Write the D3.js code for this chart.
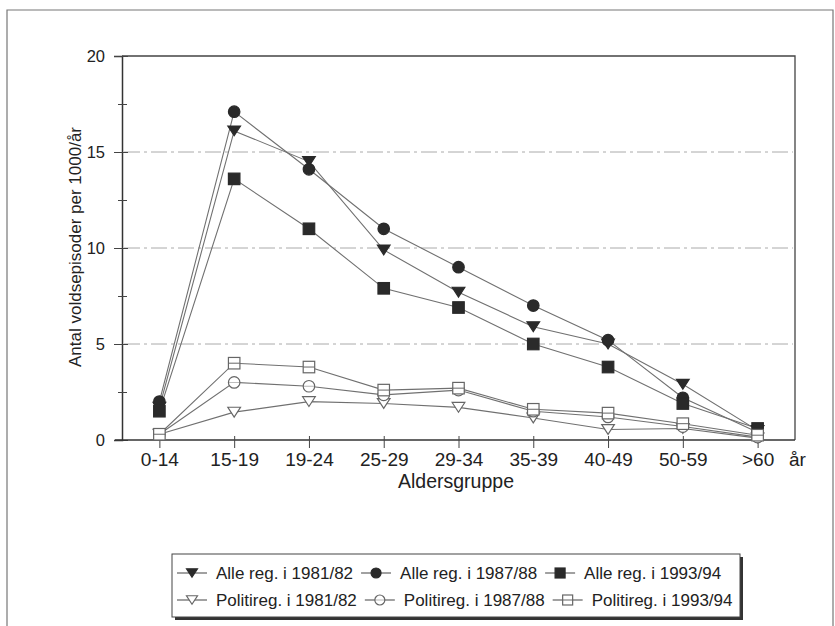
<!DOCTYPE html>
<html>
<head>
<meta charset="utf-8">
<script src="https://cdn.jsdelivr.net/npm/d3@7/dist/d3.min.js"></script>
<style>
  body { margin: 0; background: #fff; }
  svg { display: block; font-family: "Liberation Sans", Arial, sans-serif; }
</style>
</head>
<body>
<svg id="chart" width="835" height="626"></svg>
<script>
const categories = ["0-14", "15-19", "19-24", "25-29", "29-34", "35-39", "40-49", "50-59", ">60"];
const alle8182 = [1.7, 16.1, 14.5, 9.9, 7.7, 5.9, 5.0, 2.9, 0.5];
const alle8788 = [2.0, 17.1, 14.1, 11.0, 9.0, 7.0, 5.2, 2.2, 0.4];
const alle9394 = [1.5, 13.6, 11.0, 7.9, 6.9, 5.0, 3.8, 1.9, 0.6];
const pol8182 = [0.3, 1.45, 2.0, 1.9, 1.7, 1.15, 0.55, 0.6, 0.1];
const pol8788 = [0.3, 3.0, 2.8, 2.35, 2.6, 1.5, 1.2, 0.7, 0.15];
const pol9394 = [0.3, 4.0, 3.8, 2.6, 2.7, 1.6, 1.4, 0.85, 0.25];
const yTicks = [0, 5, 10, 15, 20];
const yMinorTicks = [2.5, 7.5, 12.5, 17.5];
const gridValues = [5, 10, 15];

const seriesNames = [
  "Alle reg. i 1981/82", "Alle reg. i 1987/88", "Alle reg. i 1993/94",
  "Politireg. i 1981/82", "Politireg. i 1987/88", "Politireg. i 1993/94"
];
const seriesValues = [alle8182, alle8788, alle9394, pol8182, pol8788, pol9394];
const seriesShape = ["tri", "circle", "square", "tri", "circle", "square"];
const seriesFilled = [true, true, true, false, false, false];

const svg = d3.select("#chart");
const plot = { left: 122, right: 795, top: 56, bottom: 440 };

// outer frame
svg.append("path")
  .attr("d", "M7,640 L7,10 L833,10 L833,640")
  .attr("fill", "none").attr("stroke", "#777").attr("stroke-width", 1.2);

const x = d3.scalePoint().domain(categories).range([plot.left, plot.right]).padding(0.5);
const y = d3.scaleLinear().domain([0, 20]).range([plot.bottom, plot.top]);

// gridlines
svg.append("g").selectAll("line").data(gridValues).join("line")
  .attr("x1", plot.left + 2).attr("x2", plot.right - 2)
  .attr("y1", d => y(d)).attr("y2", d => y(d))
  .attr("stroke", "#aaa").attr("stroke-width", 1)
  .attr("stroke-dasharray", "16,4,3,4");

// plot frame (top & right)
svg.append("path")
  .attr("d", `M${plot.left},${plot.top} L${plot.right},${plot.top} L${plot.right},${plot.bottom}`)
  .attr("fill", "none").attr("stroke", "#444").attr("stroke-width", 1.3);

// y axis
const yAxis = d3.axisLeft(y).tickValues(yTicks).tickSize(8).tickPadding(8)
  .tickFormat(d3.format("d"));
const gy = svg.append("g").attr("transform", `translate(${plot.left},0)`).call(yAxis);
gy.select(".domain").attr("stroke", "#333").attr("stroke-width", 1.5);
gy.selectAll(".tick line").attr("x2", -8).attr("x1", 6).attr("stroke", "#444");
gy.selectAll(".tick text").attr("font-size", "16.5px").attr("fill", "#222")
  .attr("font-family", "Liberation Sans, Arial, sans-serif").attr("x", -17);
const yMinor = d3.axisLeft(y).tickValues(yMinorTicks).tickSize(4).tickFormat("");
const gym = svg.append("g").attr("transform", `translate(${plot.left},0)`).call(yMinor);
gym.select(".domain").remove();
gym.selectAll(".tick line").attr("x1", 5).attr("x2", -4).attr("stroke", "#444");

// x axis
const xAxis = d3.axisBottom(x).tickSize(8).tickPadding(6);
const gx = svg.append("g").attr("transform", `translate(0,${plot.bottom})`).call(xAxis);
gx.select(".domain").attr("d", `M${plot.left - 7},0H${plot.right}`)
  .attr("stroke", "#333").attr("stroke-width", 1.5);
gx.selectAll(".tick line").attr("y1", -4).attr("y2", 8).attr("stroke", "#444");
gx.selectAll(".tick text").attr("font-size", "19px").attr("fill", "#222")
  .attr("font-family", "Liberation Sans, Arial, sans-serif").attr("dy", null).attr("y", 26);

svg.append("text").attr("x", 789).attr("y", 466)
  .attr("font-size", "19px").attr("fill", "#222").text("år");
svg.append("text").attr("x", 456).attr("y", 488).attr("text-anchor", "middle")
  .attr("font-size", "19.5px").attr("fill", "#222").text("Aldersgruppe");
svg.append("text")
  .attr("transform", "translate(81,247) rotate(-90)")
  .attr("text-anchor", "middle").attr("font-size", "17px").attr("fill", "#222")
  .text("Antal voldsepisoder per 1000/år");

// marker drawing
function drawMarker(g, shape, filled, cx, cy, s) {
  const fill = filled ? "#2a2a2a" : "#fff";
  const stroke = filled ? "#2a2a2a" : "#666";
  let el;
  if (shape === "tri") {
    const h = s * 0.85, w = s * 0.55;
    el = g.append("path").attr("d", `M${cx - w},${cy - h / 2} L${cx + w},${cy - h / 2} L${cx},${cy + h / 2} Z`);
  } else if (shape === "circle") {
    el = g.append("circle").attr("cx", cx).attr("cy", cy).attr("r", s * 0.5);
  } else {
    el = g.append("rect").attr("x", cx - s / 2).attr("y", cy - s / 2).attr("width", s).attr("height", s);
  }
  el.attr("fill", fill).attr("stroke", stroke).attr("stroke-width", 1.2);
  if (!filled && shape === "square") {
    g.append("line").attr("x1", cx - s / 2).attr("x2", cx + s / 2).attr("y1", cy).attr("y2", cy)
      .attr("stroke", stroke).attr("stroke-width", 1);
  }
  if (!filled && shape === "circle") {
    g.append("line").attr("x1", cx - s / 2).attr("x2", cx + s / 2).attr("y1", cy).attr("y2", cy)
      .attr("stroke", stroke).attr("stroke-width", 0.8).attr("opacity", 0.6);
  }
}

const line = d3.line().x((d, i) => x(categories[i])).y(d => y(d));
const linesG = svg.append("g");
seriesValues.forEach((vals, k) => {
  linesG.append("path").attr("d", line(vals))
    .attr("fill", "none").attr("stroke", "#707070").attr("stroke-width", 1.1);
});
const markG = svg.append("g");
seriesValues.forEach((vals, k) => {
  vals.forEach((v, i) => {
    drawMarker(markG, seriesShape[k], seriesFilled[k], x(categories[i]), y(v), 11.5);
  });
});

// legend
const lg = svg.append("g");
const box = { x: 172, y: 554, w: 568, h: 63 };
lg.append("rect").attr("x", box.x + 3).attr("y", box.y + 3).attr("width", box.w).attr("height", box.h)
  .attr("fill", "#333");
lg.append("rect").attr("x", box.x).attr("y", box.y).attr("width", box.w).attr("height", box.h)
  .attr("fill", "#fff").attr("stroke", "#444").attr("stroke-width", 1);
const rowsY = [573, 600];
for (let r = 0; r < 2; r++) {
  let cx = 177;
  for (let c = 0; c < 3; c++) {
    const k = r * 3 + c;
    const cy = rowsY[r];
    lg.append("line").attr("x1", cx).attr("x2", cx + 30).attr("y1", cy).attr("y2", cy)
      .attr("stroke", "#555").attr("stroke-width", 1.1);
    drawMarker(lg, seriesShape[k], seriesFilled[k], cx + 15, cy, 10);
    const t = lg.append("text").attr("x", cx + 39).attr("y", cy + 6)
      .attr("font-size", "17px").attr("fill", "#222").text(seriesNames[k]);
    cx += 39 + t.node().getComputedTextLength() + 8;
  }
}
</script>
</body>
</html>
